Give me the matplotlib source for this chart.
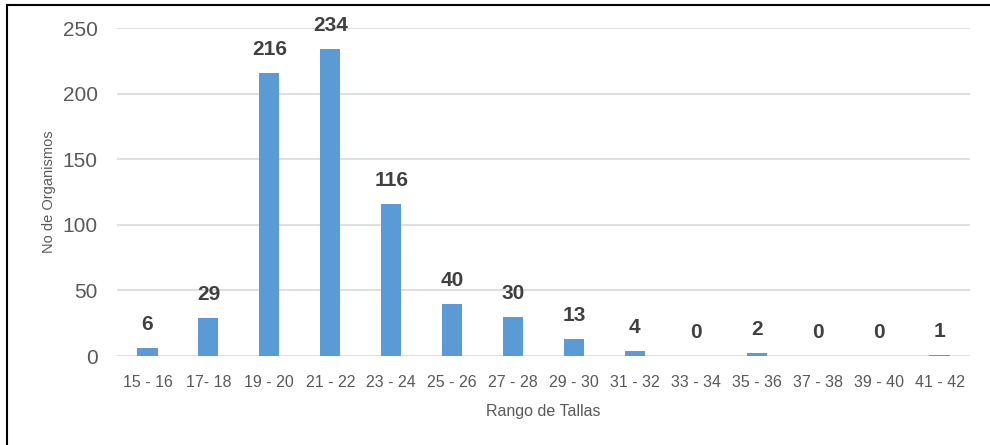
import matplotlib.pyplot as plt
import numpy as np

plt.rcParams['font.family'] = ['Liberation Sans', 'DejaVu Sans']

rangos = ['15 - 16', '17- 18', '19 - 20', '21 - 22', '23 - 24', '25 - 26', '27 - 28',
          '29 - 30', '31 - 32', '33 - 34', '35 - 36', '37 - 38', '39 - 40', '41 - 42']
organismos = [6, 29, 216, 234, 116, 40, 30, 13, 4, 0, 2, 0, 0, 1]
y_ticks = [0, 50, 100, 150, 200, 250]

bar_color = '#5B9BD5'
grid_color = '#D9D9D9'
text_color = '#595959'

fig = plt.figure(figsize=(9.9, 4.45), dpi=100)
ax = fig.add_axes([0.1182, 0.2, 0.8616, 0.737])

x = np.arange(len(rangos))
bars = ax.bar(x, organismos, width=0.33, color=bar_color, zorder=3)

# value labels above each bar
for xi, v in zip(x, organismos):
    ax.annotate(str(v), (xi, v), xytext=(0, 10), textcoords='offset points',
                ha='center', va='bottom', fontsize=15, fontweight='bold',
                color='#404040')

ax.set_xlim(-0.5, len(rangos) - 0.5)
ax.set_ylim(0, 250)
ax.set_yticks(y_ticks)
ax.set_xticks(x)
ax.set_xticklabels(rangos)

ax.yaxis.grid(True, color=grid_color, linewidth=1.2, zorder=0)
for s in ax.spines.values():
    s.set_visible(False)
ax.tick_params(axis='both', length=0, colors=text_color)
ax.tick_params(axis='y', labelsize=15, pad=14)
ax.tick_params(axis='x', labelsize=11.5, pad=14)

ax.set_ylabel('No de Organismos', fontsize=10.5, color=text_color, labelpad=5)
ax.set_xlabel('Rango de Tallas', fontsize=11.5, color=text_color, labelpad=10)

# frame line on the left and top edges of the figure
fig.add_artist(plt.Line2D([7 / 990, 7 / 990], [0, 1 - 5 / 445], transform=fig.transFigure,
                          color='black', linewidth=1.5))
fig.add_artist(plt.Line2D([7 / 990, 1], [1 - 5 / 445, 1 - 5 / 445], transform=fig.transFigure,
                          color='black', linewidth=1.5))

fig.savefig('out.png', dpi=100)
